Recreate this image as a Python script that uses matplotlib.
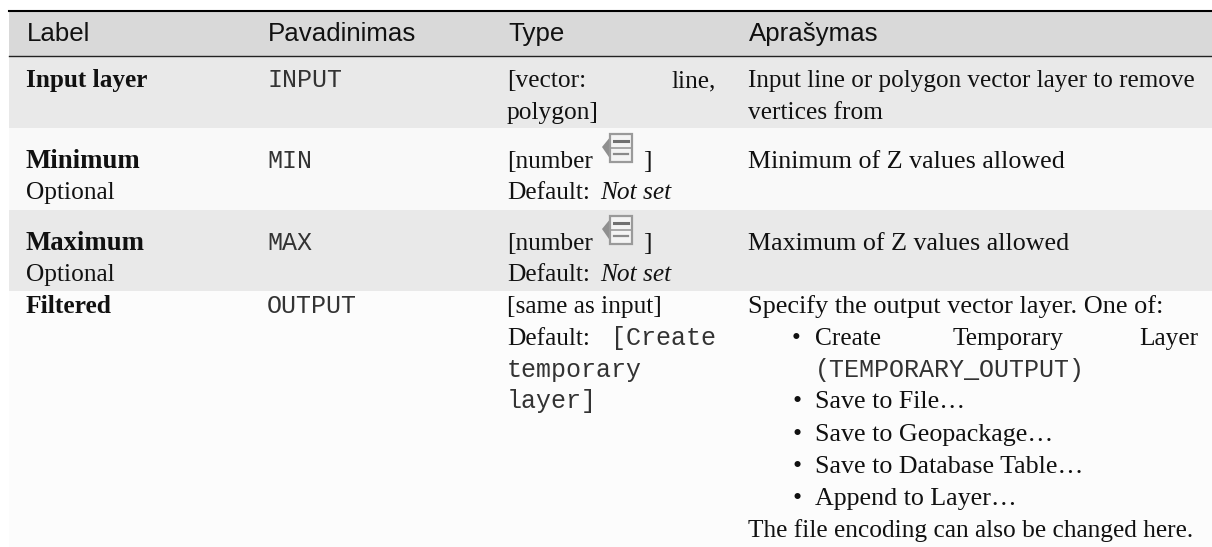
import matplotlib
matplotlib.use('Agg')
import matplotlib.pyplot as plt
from matplotlib.patches import Rectangle, Polygon

W, H = 1212, 547
SERIF = 'Liberation Serif'
SANS = 'Liberation Sans'
MONO = 'Liberation Mono'

header = ['Label', 'Pavadinimas', 'Type', 'Aprašymas']
labels = ['Input layer', 'Minimum', 'Maximum', 'Filtered']
label_sizes = [18.2, 19.3, 19.3, 18.4]
names = ['INPUT', 'MIN', 'MAX', 'OUTPUT']
descriptions = ['Minimum of Z values allowed', 'Maximum of Z values allowed']
bullets = ['Save to File…', 'Save to Geopackage…', 'Save to Database Table…', 'Append to Layer…']

col_x = [26, 267, 507, 748]
row_edges = [11, 56, 128, 210, 291, 547]
row_colors = ['#d9d9d9', '#e9e9e9', '#f9f9f9', '#e9e9e9', '#fcfcfc']
row_base = [87, 168, 250, 313]
FS = 18.3
DESC_FS = 18.7
MONO_FS = 18

fig = plt.figure(figsize=(W / 100, H / 100), dpi=100)
ax = fig.add_axes([0, 0, 1, 1])
ax.set_xlim(0, W)
ax.set_ylim(H, 0)
ax.axis('off')


def put(x, y, s, family=SERIF, **kw):
    kw.setdefault('fontsize', FS)
    kw.setdefault('color', '#111111')
    ax.text(x, y, s, family=family, va='baseline', **kw)


def mono(x, y, s):
    put(x, y, s, family=MONO, fontsize=MONO_FS, color='#333333')


def icon(x, y):
    # data-defined override icon
    ax.add_patch(Polygon([(x, y + 13), (x + 9, y + 2), (x + 9, y + 26)], color='#8f8f8f', lw=0))
    ax.add_patch(Rectangle((x + 8, y), 22, 28, fc='#f4f4f4', ec='#9a9a9a', lw=1.6))
    ax.plot([x + 8, x + 30], [y + 14, y + 14], color='#9a9a9a', lw=1.2)
    ax.plot([x + 12, x + 26], [y + 7, y + 7], color='#707070', lw=2.2)
    ax.plot([x + 12, x + 26], [y + 20, y + 20], color='#8a8a8a', lw=1.6)


for i, c in enumerate(row_colors):
    ax.add_patch(Rectangle((9, row_edges[i]), W - 9, row_edges[i + 1] - row_edges[i], fc=c, ec='none'))
ax.plot([9, W], [10.5, 10.5], color='black', lw=1.5)
ax.plot([9, W], [56, 56], color='#222222', lw=1.0)

for x, s in zip(col_x, header):
    put(x + 1, 41, s, family=SANS, fontsize=18.6)

for y, s, fs in zip(row_base, labels, label_sizes):
    put(col_x[0], y, s, fontweight='bold', fontsize=fs)
put(col_x[0], 199, 'Optional')
put(col_x[0], 281, 'Optional')
for y, s in zip(row_base, names):
    mono(col_x[1], y, s)

# type column
put(col_x[2], 87, '[vector:')
put(671, 87, 'line,')
put(col_x[2], 119, 'polygon]')
for y in row_base[1:3]:
    put(col_x[2], y, '[number')
    icon(602, y - 34)
    put(643, y, ']')
    put(col_x[2], y + 31, 'Default:')
    put(600, y + 31, 'Not set', fontstyle='italic')
put(col_x[2], 313, '[same as input]')
put(col_x[2], 345, 'Default:')
mono(611, 345, '[Create')
mono(col_x[2], 377, 'temporary')
mono(col_x[2], 408, 'layer]')

# description column
put(col_x[3], 87, 'Input line or polygon vector layer to remove', fontsize=18.1)
put(col_x[3], 119, 'vertices from')
put(col_x[3], 168, descriptions[0], fontsize=DESC_FS)
put(col_x[3], 250, descriptions[1], fontsize=DESC_FS)
put(col_x[3], 313, 'Specify the output vector layer. One of:', fontsize=18.9)
put(792, 345, '•')
put(815, 345, 'Create')
put(953, 345, 'Temporary')
put(1139, 345, 'Layer')
mono(815, 377, '(TEMPORARY_OUTPUT)')
for y, s in zip([408, 441, 473, 505], bullets):
    put(792, y, '•', fontsize=DESC_FS)
    put(815, y, s, fontsize=DESC_FS)
put(col_x[3], 537, 'The file encoding can also be changed here.', fontsize=18.3)

fig.savefig('out.png', dpi=100)
